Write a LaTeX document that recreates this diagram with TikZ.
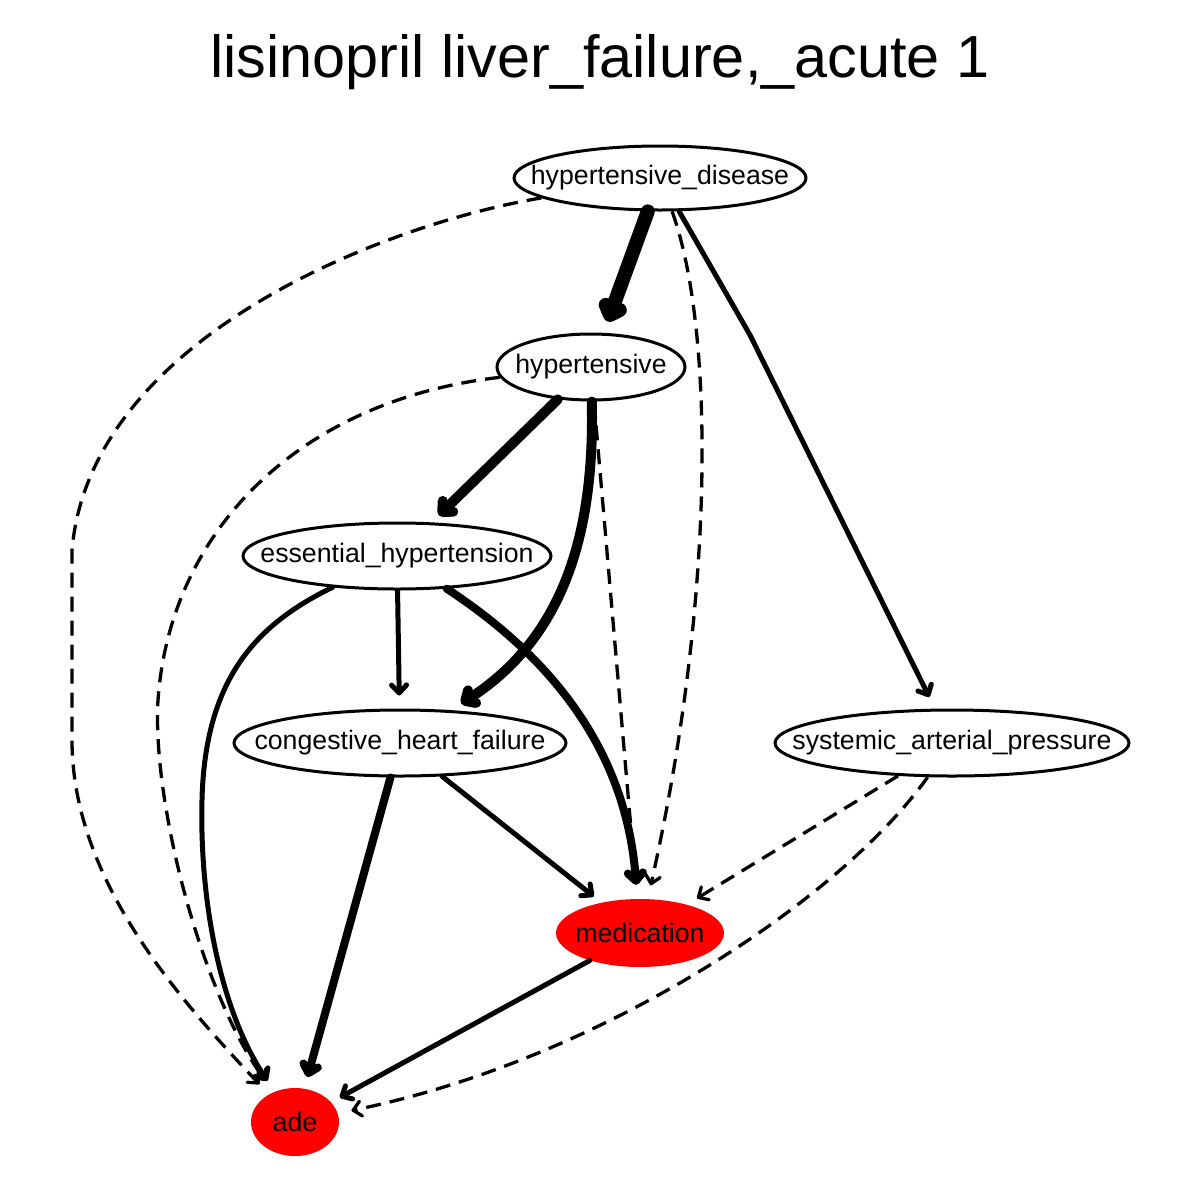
\documentclass[tikz,border=0pt]{standalone}
\usepackage{fontspec}
\setmainfont{Liberation Sans}
\usetikzlibrary{shapes.geometric,arrows.meta}
\newcommand{\nlab}[1]{\makebox[0pt][c]{#1}}
\begin{document}
\begin{tikzpicture}[x=1pt,y=-1pt,
  nd/.style={ellipse,draw,line width=3pt,fill=white,inner sep=0pt,font=\fontsize{26.7}{30}\selectfont},
  rednd/.style={ellipse,draw=none,fill=red,inner sep=0pt,font=\fontsize{26.7}{30}\selectfont},
  ed/.style={line width=5pt,line cap=round,line join=round,-{Straight Barb[length=8pt,width=15pt,round]}},
  dsh/.style={line width=3.3pt,dash pattern=on 15pt off 9pt,-{Straight Barb[length=8pt,width=15pt,round]}}]
\fill[white] (0,0) rectangle (1200,1200);
\useasboundingbox (0,0) rectangle (1200,1200);
\node (title) at (600,62) {\fontsize{59.4}{66}\selectfont lisinopril liver\_failure,\_acute 1};
\node[nd,minimum width=292pt,minimum height=64pt] (hd) at (660,178) {\nlab{hypertensive\_disease}};
\node[nd,minimum width=188pt,minimum height=66pt] (hyp) at (591,367) {\nlab{hypertensive}};
\node[nd,minimum width=308pt,minimum height=66pt] (ess) at (397,556) {\nlab{essential\_hypertension}};
\node[nd,minimum width=332pt,minimum height=66pt] (chf) at (400,743) {\nlab{congestive\_heart\_failure}};
\node[nd,minimum width=354pt,minimum height=66pt] (sap) at (952,743) {\nlab{systemic\_arterial\_pressure}};
\node[rednd,minimum width=168pt,minimum height=68pt] (med) at (640,933) {\nlab{medication}};
\node[rednd,minimum width=88pt,minimum height=68pt] (ade) at (295,1122) {\nlab{ade}};
% edges
\draw[ed,line width=14pt,shorten >=12pt] (hd) -- (hyp);
\draw[dsh,shorten >=14pt] (hd) .. controls (380,225) and (90,340) .. (72,550) -- (72,740) .. controls (72,880) and (180,1000) .. (ade);
\draw[dsh,shorten >=14pt] (hd) .. controls (715,330) and (715,600) .. (med);
\draw[ed,shorten >=13pt] (hd) -- (750,335) -- (sap);
\draw[ed,line width=10pt,shorten >=10pt] (hyp) -- (ess);
\draw[ed,line width=10pt,shorten >=12pt] (hyp) .. controls (595,540) and (560,640) .. (chf);
\draw[dsh,shorten >=14pt] (hyp) .. controls (300,400) and (170,530) .. (158,700) .. controls (152,800) and (200,990) .. (ade);
\draw[dsh,shorten >=16pt] (hyp) -- (med);
\draw[ed,shorten >=13pt] (ess) .. controls (255,625) and (205,680) .. (202,800) .. controls (199.5,900) and (220,1010) .. (ade);
\draw[ed,shorten >=13pt] (ess) -- (chf);
\draw[ed,line width=8pt,shorten >=14pt] (ess) .. controls (540,650) and (625,740) .. (med);
\draw[ed,line width=8pt,shorten >=12pt] (chf) -- (ade);
\draw[ed,shorten >=10pt] (chf) -- (med);
\draw[dsh,shorten >=12pt] (sap) -- (med);
\draw[dsh,shorten >=14pt] (sap) .. controls (840,900) and (600,1060) .. (ade);
\draw[ed,shorten >=10pt] (med) -- (ade);
\end{tikzpicture}
\end{document}
